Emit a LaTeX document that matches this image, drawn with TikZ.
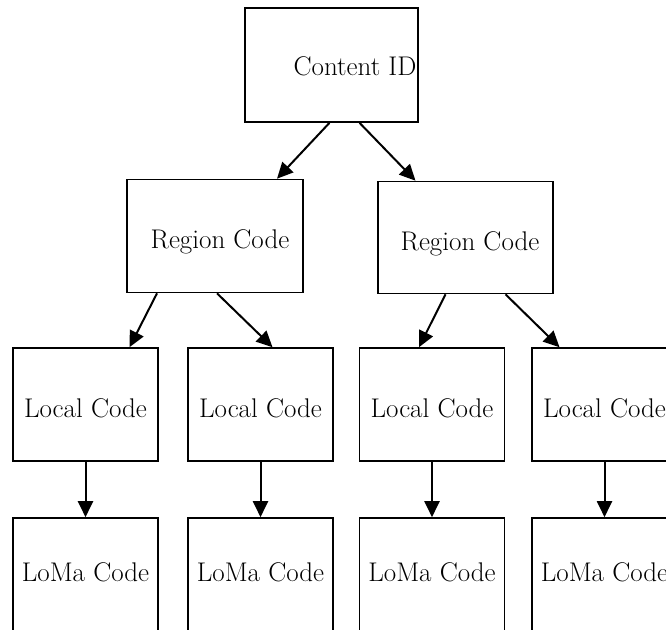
\documentclass[tikz,border=0pt]{standalone}
\usetikzlibrary{arrows.meta}
\begin{document}
\begin{tikzpicture}[x=1pt,y=-1pt,
  box/.style={draw=black,line width=1.6pt,rectangle,inner sep=0pt},
  lbl/.style={font=\fontsize{27}{32}\selectfont,inner sep=0pt,text height=26pt,text depth=1pt},
  lblup/.style={font=\fontsize{27}{32}\selectfont,inner sep=0pt,text height=18pt,text depth=6pt},
  link/.style={line width=2pt,-{Triangle[length=16pt,width=15pt]}}]
\useasboundingbox (0,0) rectangle (666,629);
\clip (0,0) rectangle (666,629);
% root
\node[box,minimum width=173pt,minimum height=114pt] (cid) at (331.5,65) {};
\node[lbl] (cidt) at (355,63) {Content ID};
% second level
\node[box,minimum width=176pt,minimum height=113pt] (rl) at (215,236) {};
\node[lbl] (rlt) at (220,236) {Region Code};
\node[box,minimum width=175pt,minimum height=112pt] (rr) at (465.5,237.5) {};
\node[lbl] (rrt) at (470,238) {Region Code};
% third level
\foreach \n/\x in {l1/85.5,l2/260.5,l3/432,l4/604.5}{
  \node[box,minimum width=145pt,minimum height=113pt,lbl] (\n) at (\x,404.5) {Local Code};
}
% fourth level
\foreach \n/\x in {m1/85.5,m2/260.5,m3/432,m4/604.5}{
  \node[box,minimum width=145pt,minimum height=114pt,lblup] (\n) at (\x,575) {LoMa Code};
}
% connectors
\draw[link] ([xshift=-2pt]cid.south) -- ([xshift=62pt]rl.north);
\draw[link] ([xshift=28pt]cid.south) -- ([xshift=-50pt]rr.north);
\draw[link] ([xshift=-58pt]rl.south) -- ([xshift=44pt]l1.north);
\draw[link] ([xshift=2pt]rl.south) -- ([xshift=12pt]l2.north);
\draw[link] ([xshift=-20pt]rr.south) -- ([xshift=-13pt]l3.north);
\draw[link] ([xshift=40pt]rr.south) -- ([xshift=-45pt]l4.north);
\foreach \a/\b in {l1/m1,l2/m2,l3/m3,l4/m4}{
  \draw[link] (\a.south) -- (\b.north);
}
\end{tikzpicture}
\end{document}
